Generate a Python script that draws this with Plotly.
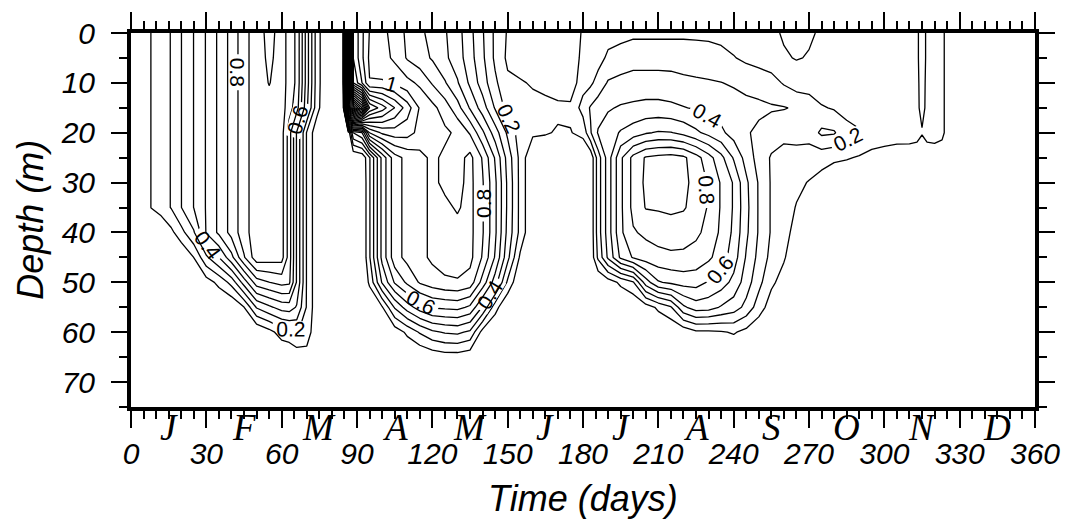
import numpy as np
import plotly.graph_objects as go

# ---------------- data ----------------
depths = [0, 5, 10, 15, 20, 25, 30, 35, 40, 45, 50, 55, 60, 65, 70, 75]

days = [0, 4, 8, 12, 16, 20, 25, 30, 35, 40, 45, 50, 55, 60, 63, 66, 70, 74, 78,
        84.5, 86.5, 88.5, 92, 95, 100, 105, 110, 115, 120, 125, 130, 135, 140, 145, 150, 155,
        160, 165, 170, 175, 180, 183, 186, 190, 195, 200, 205, 210, 215, 220, 225, 230, 235,
        240, 245, 250, 255, 260, 265, 270, 275, 280, 285, 290, 295, 300, 305, 310, 313, 315,
        317, 320, 323, 326, 330, 345, 360]

# one vertical profile (values at each depth) per day
profiles = [
    [0, 0, 0, 0, 0, 0, 0, 0, 0, 0, 0, 0, 0, 0, 0, 0],                                  # 0
    [0, 0, 0, 0, 0, 0, 0, 0, 0, 0, 0, 0, 0, 0, 0, 0],                                  # 4
    [.102, .102, .102, .102, .102, .102, .102, .102, 0, 0, 0, 0, 0, 0, 0, 0],          # 8
    [.15, .15, .15, .15, .15, .15, .15, .15, 0, 0, 0, 0, 0, 0, 0, 0],                  # 12
    [.205, .205, .205, .205, .205, .205, .205, .205, .074, 0, 0, 0, 0, 0, 0, 0],       # 16
    [.298, .298, .298, .298, .298, .298, .298, .298, .166, 0, 0, 0, 0, 0, 0, 0],       # 20
    [.402, .402, .402, .402, .402, .402, .402, .402, .289, .101, 0, 0, 0, 0, 0, 0],    # 25
    [.508, .508, .508, .508, .508, .508, .508, .508, .508, .281, .054, 0, 0, 0, 0, 0], # 30
    [.62, .62, .62, .62, .62, .62, .62, .62, .62, .40, .126, 0, 0, 0, 0, 0],           # 35
    [.735, .735, .735, .735, .735, .735, .735, .735, .735, .568, .234, 0, 0, 0, 0, 0], # 40
    [.86, .86, .86, .86, .86, .86, .86, .86, .86, .79, .444, .097, 0, 0, 0, 0],        # 45
    [.96, .96, .96, .96, .96, .96, .96, .96, .96, .96, .651, .309, 0, 0, 0, 0],        # 50
    [.86, .875, .895, .94, .95, .95, .95, .95, .95, .95, .697, .38, .063, 0, 0, 0],    # 55
    [.95, .95, .95, .95, .94, .94, .94, .94, .94, .94, .734, .44, .147, 0, 0, 0],      # 60
    [.86, .86, .86, .84, .75, .75, .75, .75, .75, .75, .72, .45, .17, 0, 0, 0],        # 63
    [.78, .78, .78, .75, .49, .49, .49, .49, .49, .49, .49, .39, .21, .03, 0, 0],      # 66
    [.45, .45, .45, .42, .19, .19, .19, .19, .19, .19, .19, .19, .15, .06, 0, 0],      # 70
    [.15, .15, .15, .14, .03, .03, .03, .03, .03, .03, .03, .03, .03, 0, 0, 0],        # 74
    [0, 0, 0, 0, 0, 0, 0, 0, 0, 0, 0, 0, 0, 0, 0, 0],                                  # 78
    [0, 0, 0, 0, 0, 0, 0, 0, 0, 0, 0, 0, 0, 0, 0, 0],                                  # 84.5
    [8.05, 8.05, 8.05, 3.0, 0, 0, 0, 0, 0, 0, 0, 0, 0, 0, 0, 0],                       # 86.5
    [1.3, 1.3, 1.4, 2.6, 0.4, 0, 0, 0, 0, 0, 0, 0, 0, 0, 0, 0],                        # 88.5
    [1.12, 1.12, 1.2, 2.2, 0.5, .02, 0, 0, 0, 0, 0, 0, 0, 0, 0, 0],                    # 92
    [.995, .98, 1.005, 1.6, 0.9, .19, .19, .19, .19, .19, .12, 0, 0, 0, 0, 0],         # 95
    [.93, .94, 1.01, 1.45, 1.02, .53, .53, .53, .53, .53, .41, .09, 0, 0, 0, 0],       # 100
    [.86, .88, .98, 1.3, 1.05, .76, .76, .76, .76, .76, .61, .31, .04, 0, 0, 0],       # 105
    [.78, .79, .93, 1.15, 1.04, .83, .83, .83, .83, .83, .72, .45, .12, 0, 0, 0],      # 110
    [.72, .74, .88, .99, .97, .87, .87, .87, .87, .87, .81, .55, .21, 0, 0, 0],        # 115
    [.67, .69, .79, .93, .96, .92, .92, .92, .92, .92, .85, .61, .28, .03, 0, 0],      # 120
    [.61, .62, .71, .85, .92, .88, .88, .92, .95, .95, .88, .62, .31, .05, 0, 0],      # 125
    [.54, .55, .61, .74, .88, .86, .87, .89, .93, .95, .89, .63, .32, .05, 0, 0],      # 130
    [.43, .44, .48, .59, .79, .93, .93, .93, .93, .93, .86, .58, .28, .03, 0, 0],      # 135
    [.31, .32, .35, .45, .62, .79, .81, .81, .81, .79, .66, .39, .06, 0, 0, 0],        # 140
    [.18, .18, .22, .29, .45, .59, .62, .62, .62, .59, .45, .14, 0, 0, 0, 0],          # 145
    [.09, .08, .12, .16, .28, .36, .38, .38, .37, .33, .18, 0, 0, 0, 0, 0],            # 150
    [.04, .05, .11, .12, .15, .17, .17, .17, .17, .08, 0, 0, 0, 0, 0, 0],              # 155
    [0, .02, .09, .13, .12, 0, 0, 0, 0, 0, 0, 0, 0, 0, 0, 0],                          # 160
    [0, 0, .07, .13, .11, 0, 0, 0, 0, 0, 0, 0, 0, 0, 0, 0],                            # 165
    [0, 0, .05, .12, .09, 0, 0, 0, 0, 0, 0, 0, 0, 0, 0, 0],                            # 170
    [0, .03, .04, .12, .095, 0, 0, 0, 0, 0, 0, 0, 0, 0, 0, 0],                         # 175
    [.12, .13, .16, .24, .13, 0, 0, 0, 0, 0, 0, 0, 0, 0, 0, 0],                        # 180
    [.13, .14, .18, .31, .29, .02, .02, .02, .02, .02, 0, 0, 0, 0, 0, 0],              # 183
    [.14, .16, .24, .35, .41, .25, .25, .25, .25, .22, 0, 0, 0, 0, 0, 0],              # 186
    [.16, .22, .31, .39, .45, .45, .45, .45, .45, .42, .05, 0, 0, 0, 0, 0],            # 190
    [.17, .24, .33, .41, .51, .68, .68, .68, .68, .62, .12, 0, 0, 0, 0, 0],            # 195
    [.18, .26, .34, .42, .55, .83, .83, .83, .79, .71, .19, 0, 0, 0, 0, 0],            # 200
    [.18, .26, .34, .43, .59, .91, .92, .905, .82, .75, .45, .05, 0, 0, 0, 0],         # 205
    [.18, .26, .34, .43, .61, .93, .95, .91, .84, .77, .59, .12, 0, 0, 0, 0],          # 210
    [.18, .26, .335, .42, .605, .94, .96, .92, .85, .78, .62, .19, 0, 0, 0, 0],        # 215
    [.18, .26, .32, .405, .57, .92, .93, .91, .84, .78, .64, .38, .03, 0, 0, 0],       # 220
    [.18, .25, .315, .39, .52, .84, .86, .86, .82, .76, .64, .45, .08, 0, 0, 0],       # 225
    [.18, .24, .31, .37, .47, .74, .79, .79, .77, .72, .59, .44, .08, 0, 0, 0],        # 230
    [.17, .23, .302, .355, .42, .63, .69, .69, .68, .65, .55, .39, .09, 0, 0, 0],      # 235
    [.16, .205, .29, .34, .36, .49, .59, .59, .58, .55, .47, .35, .11, 0, 0, 0],       # 240
    [.15, .18, .27, .33, .31, .36, .42, .43, .42, .39, .35, .27, .07, 0, 0, 0],        # 245
    [.14, .16, .26, .32, .28, .26, .29, .29, .29, .27, .23, .15, .02, 0, 0, 0],        # 250
    [.12, .14, .24, .31, .25, .19, .19, .19, .19, .17, .12, .05, 0, 0, 0, 0],          # 255
    [.09, .11, .19, .305, .24, .15, .14, .14, .13, .11, .06, 0, 0, 0, 0, 0],           # 260
    [.08, .095, .15, .29, .24, .16, .12, .095, .07, .03, 0, 0, 0, 0, 0, 0],            # 265
    [.09, .105, .14, .27, .24, .15, .095, .06, .02, 0, 0, 0, 0, 0, 0, 0],              # 270
    [.11, .12, .13, .21, .32, .14, .06, .02, 0, 0, 0, 0, 0, 0, 0, 0],                  # 275
    [.12, .13, .14, .19, .31, .12, .02, 0, 0, 0, 0, 0, 0, 0, 0, 0],                    # 280
    [.13, .13, .14, .17, .23, .11, 0, 0, 0, 0, 0, 0, 0, 0, 0, 0],                      # 285
    [.13, .13, .14, .15, .21, .09, 0, 0, 0, 0, 0, 0, 0, 0, 0, 0],                      # 290
    [.13, .13, .14, .14, .18, .06, 0, 0, 0, 0, 0, 0, 0, 0, 0, 0],                      # 295
    [.13, .14, .14, .15, .16, .05, 0, 0, 0, 0, 0, 0, 0, 0, 0, 0],                      # 300
    [.13, .13, .14, .14, .15, .04, 0, 0, 0, 0, 0, 0, 0, 0, 0, 0],                      # 305
    [.13, .13, .13, .14, .14, .05, 0, 0, 0, 0, 0, 0, 0, 0, 0, 0],                      # 310
    [.12, .12, .13, .13, .13, .05, 0, 0, 0, 0, 0, 0, 0, 0, 0, 0],                      # 313
    [.05, .05, .05, .06, .11, 0, 0, 0, 0, 0, 0, 0, 0, 0, 0, 0],                        # 315
    [.12, .12, .13, .13, .13, .05, 0, 0, 0, 0, 0, 0, 0, 0, 0, 0],                      # 317
    [.13, .13, .13, .13, .13, .06, 0, 0, 0, 0, 0, 0, 0, 0, 0, 0],                      # 320
    [.12, .12, .12, .12, .12, .05, 0, 0, 0, 0, 0, 0, 0, 0, 0, 0],                      # 323
    [.05, .05, .05, .05, .05, 0, 0, 0, 0, 0, 0, 0, 0, 0, 0, 0],                        # 326
    [0, 0, 0, 0, 0, 0, 0, 0, 0, 0, 0, 0, 0, 0, 0, 0],                                  # 330
    [0, 0, 0, 0, 0, 0, 0, 0, 0, 0, 0, 0, 0, 0, 0, 0],                                  # 345
    [0, 0, 0, 0, 0, 0, 0, 0, 0, 0, 0, 0, 0, 0, 0, 0],                                  # 360
]

x_ticks = [0, 30, 60, 90, 120, 150, 180, 210, 240, 270, 300, 330, 360]
y_ticks = [0, 10, 20, 30, 40, 50, 60, 70]
month_days = [15, 45, 75, 105, 135, 165, 195, 225, 255, 285, 315, 345]
month_letters = ["J", "F", "M", "A", "M", "J", "J", "A", "S", "O", "N", "D"]

# ---------------- figure ----------------
z = np.array(profiles, dtype=float).T

black = [[0, "black"], [1, "black"]]
common = dict(x=days, y=depths, z=z, colorscale=black, showscale=False,
              hoverinfo="skip", line=dict(width=1.3, color="black", smoothing=0))

fig = go.Figure()
fig.add_trace(go.Contour(**common, autocontour=False,
                         contours=dict(start=0.1, end=0.91, size=0.2, coloring="lines",
                                       showlabels=False)))
fig.add_trace(go.Contour(**common, autocontour=False,
                         contours=dict(start=0.2, end=1.01, size=0.2, coloring="lines",
                                       showlabels=True,
                                       labelfont=dict(family="Liberation Sans", size=21,
                                                      color="black"))))
fig.add_trace(go.Contour(**common, autocontour=False,
                         contours=dict(start=1.1, end=8.0, size=0.1, coloring="lines",
                                       showlabels=False)))

tickfont = dict(family="Liberation Sans", size=30, color="black")

fig.update_xaxes(range=[0, 360], tickmode="array", tickvals=x_ticks,
                 ticktext=[f"<i>{v}</i>" for v in x_ticks],
                 ticks="outside", ticklen=17, tickwidth=2, tickcolor="black",
                 minor=dict(tick0=0, dtick=5, ticks="outside", ticklen=8, tickwidth=1.5,
                            tickcolor="black"),
                 showline=True, linewidth=4, linecolor="black", mirror="allticks",
                 showgrid=False, zeroline=False, tickfont=tickfont, ticklabelstandoff=0)
fig.update_yaxes(range=[75, 0], tickmode="array", tickvals=y_ticks,
                 ticktext=[f"<i>{v}</i>" for v in y_ticks],
                 ticks="outside", ticklen=16, tickwidth=2, tickcolor="black",
                 minor=dict(tick0=0, dtick=5, ticks="outside", ticklen=8, tickwidth=1.5,
                            tickcolor="black"),
                 showline=True, linewidth=4, linecolor="black", mirror="allticks",
                 showgrid=False, zeroline=False, tickfont=tickfont, ticklabelstandoff=10)

annotations = []
for d, m in zip(month_days, month_letters):
    annotations.append(dict(x=d, y=-0.115, xref="x", yref="paper", text=f"<i>{m}</i>",
                            showarrow=False, xanchor="center", yanchor="bottom",
                            font=dict(family="Liberation Serif", size=37, color="black")))
title_font = dict(family="Liberation Sans", size=36, color="black")
annotations.append(dict(x=0.5, y=-0.305, xref="paper", yref="paper",
                        text="<i>Time (days)</i>", showarrow=False, xanchor="center",
                        yanchor="bottom", font=title_font))
annotations.append(dict(x=-0.112, y=0.5, xref="paper", yref="paper",
                        text="<i>Depth (m)</i>", showarrow=False, xanchor="center",
                        yanchor="middle", textangle=-90, font=title_font))

fig.update_layout(width=1072, height=522, margin=dict(l=131, r=28, t=31, b=115),
                  paper_bgcolor="white", plot_bgcolor="white", annotations=annotations,
                  showlegend=False)

fig.write_html("out.html")
